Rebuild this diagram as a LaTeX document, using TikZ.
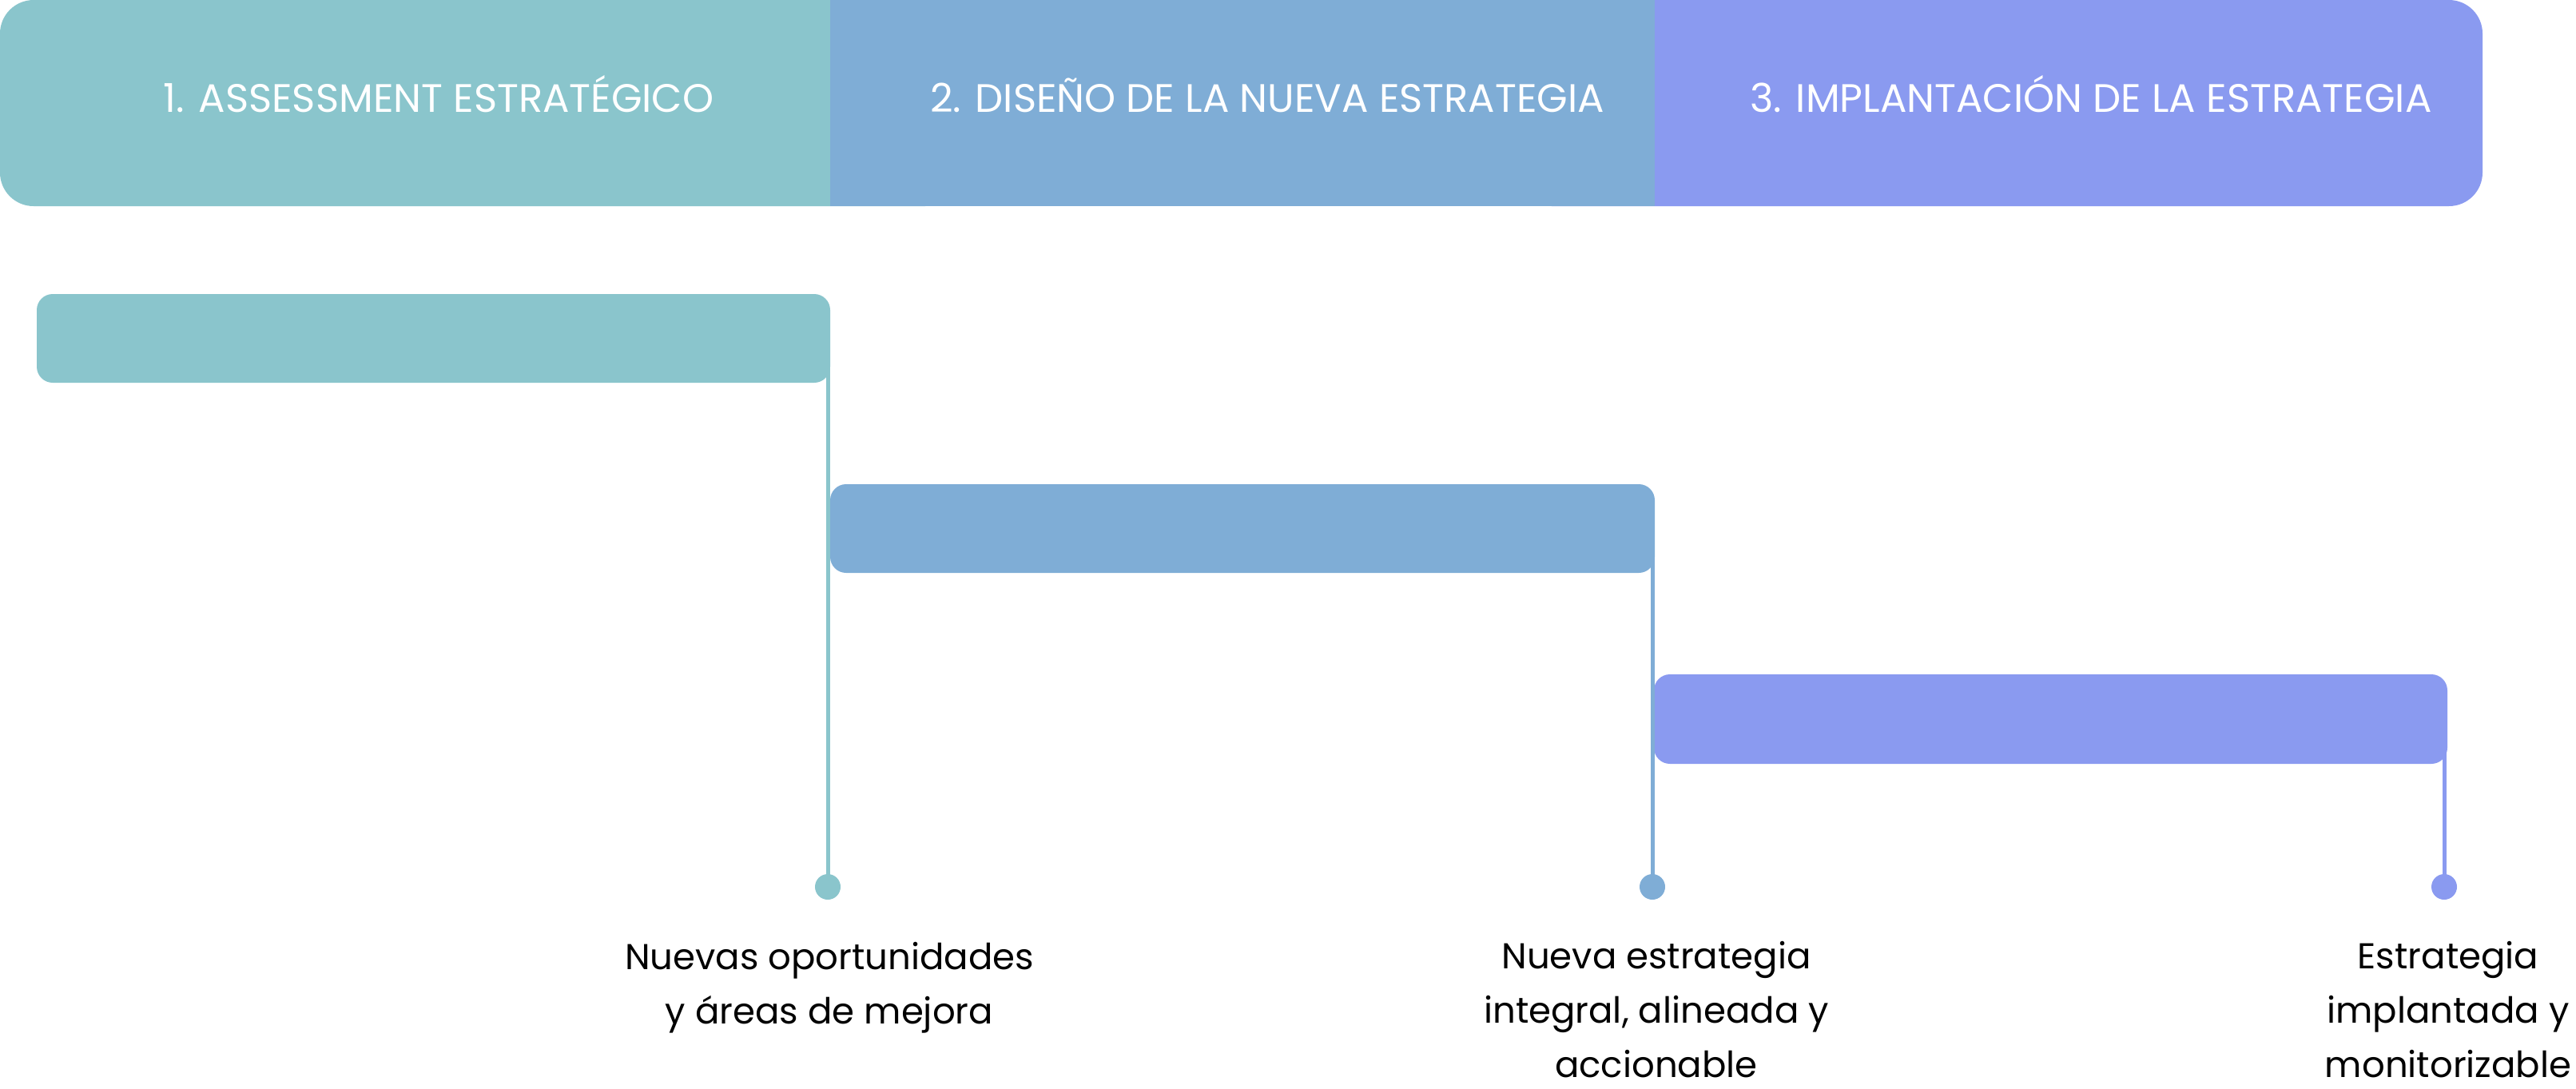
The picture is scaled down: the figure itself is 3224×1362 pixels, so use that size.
\documentclass[tikz,border=0pt]{standalone}
\usepackage{fontspec}
\setmainfont{Poppins}
\usetikzlibrary{fit}
\definecolor{cA}{HTML}{8AC5CC}
\definecolor{cB}{HTML}{7FADD6}
\definecolor{cC}{HTML}{8A9AF0}
\begin{document}
\begin{tikzpicture}[x=0.3pt,y=-0.3pt,
  bar/.style={inner sep=0pt, rounded corners=6pt, draw=none},
  hdr/.style={text=white, font=\fontsize{14.9}{17}\selectfont, anchor=base, inner sep=0pt},
  lbl/.style={text=black, font=\fontsize{13.5}{20.4}\selectfont, align=center, anchor=base, inner sep=0pt},
  conn/.style={line width=1.5pt},
  dot/.style={circle, inner sep=0pt, minimum size=9.6pt}]
\useasboundingbox (0,0) rectangle (3224,1362);
% header band
\fill[cC, rounded corners=12.6pt] (1900,0) rectangle (3107,258);
\fill[cA, rounded corners=12.6pt] (0,0) rectangle (1200,258);
\fill[cB] (1039,0) rectangle (2071,258);
\node[hdr] (h1) at (549,140) {1. ASSESSMENT ESTRATÉGICO};
\node[hdr] (h2) at (1586,140) {2. DISEÑO DE LA NUEVA ESTRATEGIA};
\node[hdr] (h3) at (2617,140) {3. IMPLANTACIÓN DE LA ESTRATEGIA};
% dots
\node[dot, fill=cA] (d1) at (1036,1110) {};
\node[dot, fill=cB] (d2) at (2068,1110) {};
\node[dot, fill=cC] (d3) at (3059,1110) {};
% bars
\node[bar, fill=cA, fit={(46,368) (1039,479)}] (b1) {};
\node[bar, fill=cB, fit={(1039,606) (2071,717)}] (b2) {};
\node[bar, fill=cC, fit={(2070,844) (3063,956)}] (b3) {};
% connectors
\draw[conn, cA] (d1 |- b1.center) -- (d1.center);
\draw[conn, cB] (d2 |- b2.center) -- (d2.center);
\draw[conn, cC] (d3 |- b3.center) -- (d3.center);
% labels (anchored at the baseline of the last line)
\node[lbl] (t1) at (1038,1281) {Nuevas oportunidades\\y áreas de mejora};
\node[lbl] (t2) at (2073,1348) {Nueva estrategia\\integral, alineada y\\accionable};
\node[lbl] (t3) at (3064,1348) {Estrategia\\implantada y\\monitorizable};
\end{tikzpicture}
\end{document}
